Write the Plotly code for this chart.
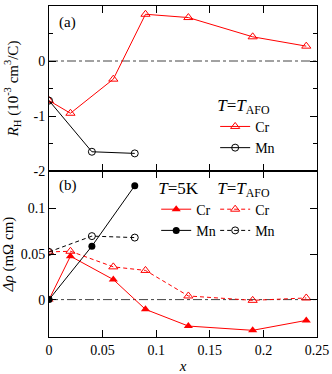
import plotly.graph_objects as go

# ---- data ----
x_cr = [0, 0.02, 0.06, 0.09, 0.13, 0.19, 0.24]
x_mn = [0, 0.04, 0.08]

rh_cr = [-0.72, -0.95, -0.33, 0.85, 0.79, 0.44, 0.27]
rh_mn = [-0.72, -1.65, -1.68]

drho_cr_5k = [0.0, 0.0476, 0.022, -0.0107, -0.029, -0.0337, -0.0228]
drho_mn_5k = [0.0, 0.0586, 0.1249]
drho_cr_afo = [0.0523, 0.053, 0.0359, 0.032, 0.004, -0.0008, 0.0018]
drho_mn_afo = [0.0523, 0.0696, 0.068]

top_ytick_vals = [1, 0, -1, -2]
top_ytick_text = ["1", "0", "-1", "-2"]
bot_ytick_vals = [0, 0.05, 0.1]
bot_ytick_text = ["0", "0.05", "0.1"]
xtick_vals = [0, 0.05, 0.1, 0.15, 0.2, 0.25]
xtick_text = ["0", "0.05", "0.1", "0.15", "0.2", "0.25"]

RED = "#ff0000"
BLK = "#000000"
FONT = "Liberation Serif"
TAFO = "<i>T</i>=<i>T</i><sub>AFO</sub>"

fig = go.Figure()

# top panel
fig.add_trace(go.Scatter(x=x_cr, y=rh_cr, mode="lines+markers", name="Cr",
    line=dict(color=RED, width=1),
    marker=dict(symbol="triangle-up-open", size=8, color=RED, line=dict(width=1)),
    xaxis="x", yaxis="y", legend="legend"))
fig.add_trace(go.Scatter(x=x_mn, y=rh_mn, mode="lines+markers", name="Mn",
    line=dict(color=BLK, width=1),
    marker=dict(symbol="circle-open", size=7, color=BLK, line=dict(width=1)),
    xaxis="x", yaxis="y", legend="legend"))

# bottom panel
fig.add_trace(go.Scatter(x=x_cr, y=drho_cr_5k, mode="lines+markers", name="Cr",
    line=dict(color=RED, width=1),
    marker=dict(symbol="triangle-up", size=8, color=RED),
    xaxis="x2", yaxis="y2", legend="legend2"))
fig.add_trace(go.Scatter(x=x_mn, y=drho_mn_5k, mode="lines+markers", name="Mn",
    line=dict(color=BLK, width=1),
    marker=dict(symbol="circle", size=7, color=BLK),
    xaxis="x2", yaxis="y2", legend="legend2"))
fig.add_trace(go.Scatter(x=x_cr, y=drho_cr_afo, mode="lines+markers", name="Cr",
    line=dict(color=RED, width=1, dash="4px,3px"),
    marker=dict(symbol="triangle-up-open", size=8, color=RED, line=dict(width=1)),
    xaxis="x2", yaxis="y2", legend="legend3"))
fig.add_trace(go.Scatter(x=x_mn, y=drho_mn_afo, mode="lines+markers", name="Mn",
    line=dict(color=BLK, width=1, dash="4px,3px"),
    marker=dict(symbol="circle-open", size=7, color=BLK, line=dict(width=1)),
    xaxis="x2", yaxis="y2", legend="legend3"))

split = 166 / 331

axis_common = dict(showline=True, linecolor=BLK, linewidth=1, mirror="ticks",
                   ticks="inside", ticklen=7, tickcolor=BLK, tickwidth=1,
                   showgrid=False, zeroline=False, automargin=False,
                   tickfont=dict(family=FONT, size=14, color=BLK))

legend_common = dict(font=dict(family=FONT, size=14, color=BLK), bgcolor="rgba(0,0,0,0)",
                     borderwidth=0, xanchor="left", yanchor="top",
                     tracegroupgap=0, itemwidth=30)

fig.update_layout(
    width=332, height=374,
    margin=dict(l=49, r=15, t=6, b=37),
    paper_bgcolor="white", plot_bgcolor="white",
    font=dict(family=FONT, size=14, color=BLK),
    xaxis=dict(domain=[0, 1], anchor="y", range=[0, 0.25], tickvals=xtick_vals,
               showticklabels=False, **axis_common),
    yaxis=dict(domain=[split, 1], anchor="x", range=[-2, 1],
               tickvals=top_ytick_vals, ticktext=top_ytick_text,
               minor=dict(dtick=0.5, ticks="inside", ticklen=4, tickcolor=BLK),
               title=dict(text="<i>R</i><sub>H</sub> (10<sup>-3</sup> cm<sup>3</sup>/C)",
                          font=dict(family=FONT, size=15), standoff=11),
               **axis_common),
    xaxis2=dict(domain=[0, 1], anchor="y2", range=[0, 0.25], tickvals=xtick_vals,
                ticktext=xtick_text,
                title=dict(text="<i>x</i>", font=dict(family=FONT, size=15), standoff=12),
                **axis_common),
    yaxis2=dict(domain=[0, split], anchor="x2", range=[-0.041, 0.141],
                tickvals=bot_ytick_vals, ticktext=bot_ytick_text,
                title=dict(text="<i>Δρ</i> (mΩ cm)", font=dict(family=FONT, size=15), standoff=11),
                **axis_common),
    legend=dict(x=0.62, y=0.75, title=dict(text=TAFO, side="top"), **legend_common),
    legend2=dict(x=0.40, y=0.50, title=dict(text="<i>T</i>=5K", side="top"), **legend_common),
    legend3=dict(x=0.62, y=0.50, title=dict(text=TAFO, side="top"), **legend_common),
    showlegend=True,
)

# zero reference lines
for yref, xref in (("y", "x domain"), ("y2", "x2 domain")):
    fig.add_shape(type="line", xref=xref, yref=yref, x0=0, x1=1, y0=0, y1=0,
                  line=dict(color="#444444", width=1, dash="dashdot"), layer="below")

fig.add_annotation(text="(a)", xref="paper", yref="paper", x=0.07, y=0.95,
                   showarrow=False, font=dict(family=FONT, size=15), xanchor="center", yanchor="middle")
fig.add_annotation(text="(b)", xref="paper", yref="paper", x=0.07, y=(337 - 185) / 331,
                   showarrow=False, font=dict(family=FONT, size=15), xanchor="center", yanchor="middle")

fig.write_html("out.html", config={"displayModeBar": False},
               post_script="document.body.style.margin='0';document.body.style.overflow='hidden';")
